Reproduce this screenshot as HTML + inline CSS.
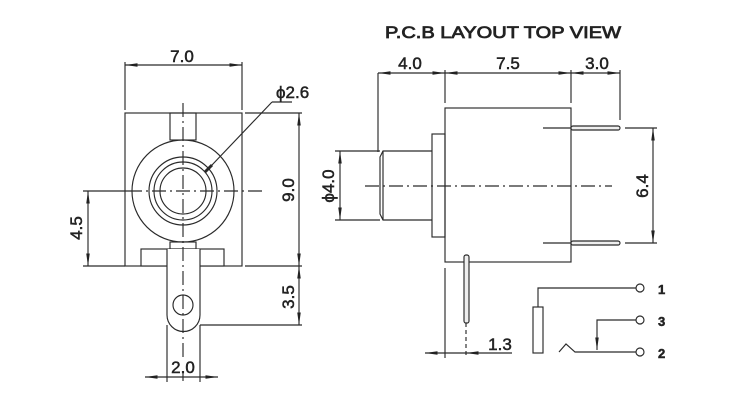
<!DOCTYPE html>
<html><head><style>body{margin:0;background:#fff}svg{display:block}</style></head><body>
<svg width="738" height="418" viewBox="0 0 738 418" xmlns="http://www.w3.org/2000/svg" font-family="Liberation Sans, Arial, sans-serif">
<defs>
<marker id="a" viewBox="0 0 10 4" refX="10" refY="2" markerWidth="14" markerHeight="5" markerUnits="userSpaceOnUse" orient="auto-start-reverse"><path d="M0,0.6 L10,2 L0,3.4z" fill="#222"/></marker>
</defs>
<g stroke="#2a2a2a" stroke-width="1.15" fill="none">
<rect x="125" y="113" width="117" height="153"/>
<rect x="170" y="113" width="26" height="27"/>
<circle cx="183" cy="191" r="51" fill="#fff"/>
<circle cx="183" cy="191" r="34"/>
<circle cx="183" cy="191" r="29"/>
<circle cx="183" cy="191" r="23"/>
<rect x="170" y="242" width="26" height="7"/>
<rect x="141" y="249" width="83" height="17" fill="#fff"/>
<path d="M167 249 V315 A16 16 0 0 0 200 315 V249" fill="#fff"/>
<path d="M167 325 V382 M200 325 V382"/>
<circle cx="183" cy="305" r="10"/>
<path d="M128 191 H262 M183 103 V385" stroke-dasharray="14,4,2,4"/>
<path d="M125 62 V110 M242 62 V110"/>
<path d="M125 65 H242" marker-start="url(#a)" marker-end="url(#a)"/>
<path d="M272 102 L212 165"/>
<path d="M212 165 L205 172" stroke-width="3"/>
<path d="M272 102 H292"/>
<path d="M245 113 H302 M245 266 H302 M200 325 H302"/>
<path d="M299 113 V266" marker-start="url(#a)" marker-end="url(#a)"/>
<path d="M299 266 V325" marker-start="url(#a)" marker-end="url(#a)"/>
<path d="M83 191 H128 M83 266 H125"/>
<path d="M88 191 V266" marker-start="url(#a)" marker-end="url(#a)"/>
<path d="M145 377 H167" marker-start="url(#a)"/>
<path d="M200 377 H218" marker-end="url(#a)"/>
<path d="M167 377 H200"/>
<rect x="445" y="108" width="126" height="154"/>
<rect x="432" y="134" width="13" height="103"/>
<path d="M432 151 H383 L380 157 V214 L383 220 H432"/>
<path d="M383 151 V220"/>
<rect x="571" y="126" width="49" height="4" rx="2" fill="#eee"/>
<rect x="571" y="241" width="49" height="4" rx="2" fill="#eee"/>
<rect x="464" y="255" width="5" height="68" rx="2" fill="#eee"/>
<path d="M543 128 H571 M543 243 H571"/>
<path d="M365 186 H612" stroke-dasharray="14,4,2,4"/>
<path d="M466 323 V358" stroke-dasharray="4,3"/>
<path d="M378 73 V152 M445 70 V103 M571 70 V103 M620 70 V120"/>
<path d="M378 73 H445" marker-start="url(#a)" marker-end="url(#a)"/>
<path d="M445 73 H571" marker-start="url(#a)" marker-end="url(#a)"/>
<path d="M571 73 H620" marker-start="url(#a)" marker-end="url(#a)"/>
<path d="M625 128 H657 M625 243 H657"/>
<path d="M653 128 V243" marker-start="url(#a)" marker-end="url(#a)"/>
<path d="M335 151 H380 M335 220 H380"/>
<path d="M340 151 V220" marker-start="url(#a)" marker-end="url(#a)"/>
<path d="M445 268 V358"/>
<path d="M425 353 H445" marker-start="url(#a)"/>
<path d="M466 353 H512" marker-start="url(#a)"/>
<path d="M445 353 H466"/>
<path d="M538 307 V288 H636"/>
<rect x="533" y="307" width="10" height="46"/>
<circle cx="640" cy="288" r="4"/>
<path d="M636 320 H597 V350" marker-end="url(#a)"/>
<circle cx="640" cy="320" r="4"/>
<path d="M559 352 L566 344 L575 352 H636"/>
<circle cx="640" cy="352" r="4"/>
</g>
<g fill="#222" stroke="#222" stroke-width="0.5" font-size="17">
<text x="182" y="62" text-anchor="middle">7.0</text>
<text x="276" y="98">ϕ2.6</text>
<text transform="translate(294,190) rotate(-90)" text-anchor="middle">9.0</text>
<text transform="translate(294,297) rotate(-90)" text-anchor="middle">3.5</text>
<text transform="translate(82,228) rotate(-90)" text-anchor="middle">4.5</text>
<rect x="172" y="358" width="22" height="15" fill="#fff" stroke="none"/>
<text x="183" y="373" text-anchor="middle">2.0</text>
<text x="385" y="38" font-size="17" stroke-width="0.8" textLength="236" lengthAdjust="spacingAndGlyphs">P.C.B LAYOUT  TOP VIEW</text>
<text x="410" y="69" text-anchor="middle">4.0</text>
<text x="508" y="69" text-anchor="middle">7.5</text>
<text x="597" y="69" text-anchor="middle">3.0</text>
<text transform="translate(648,186) rotate(-90)" text-anchor="middle">6.4</text>
<text transform="translate(334,186) rotate(-90)" text-anchor="middle">ϕ4.0</text>
<text x="500" y="350" text-anchor="middle">1.3</text>
<text x="658" y="294" font-size="13" font-weight="bold">1</text>
<text x="658" y="326" font-size="13" font-weight="bold">3</text>
<text x="658" y="358" font-size="13" font-weight="bold">2</text>
</g>
</svg>
</body></html>
